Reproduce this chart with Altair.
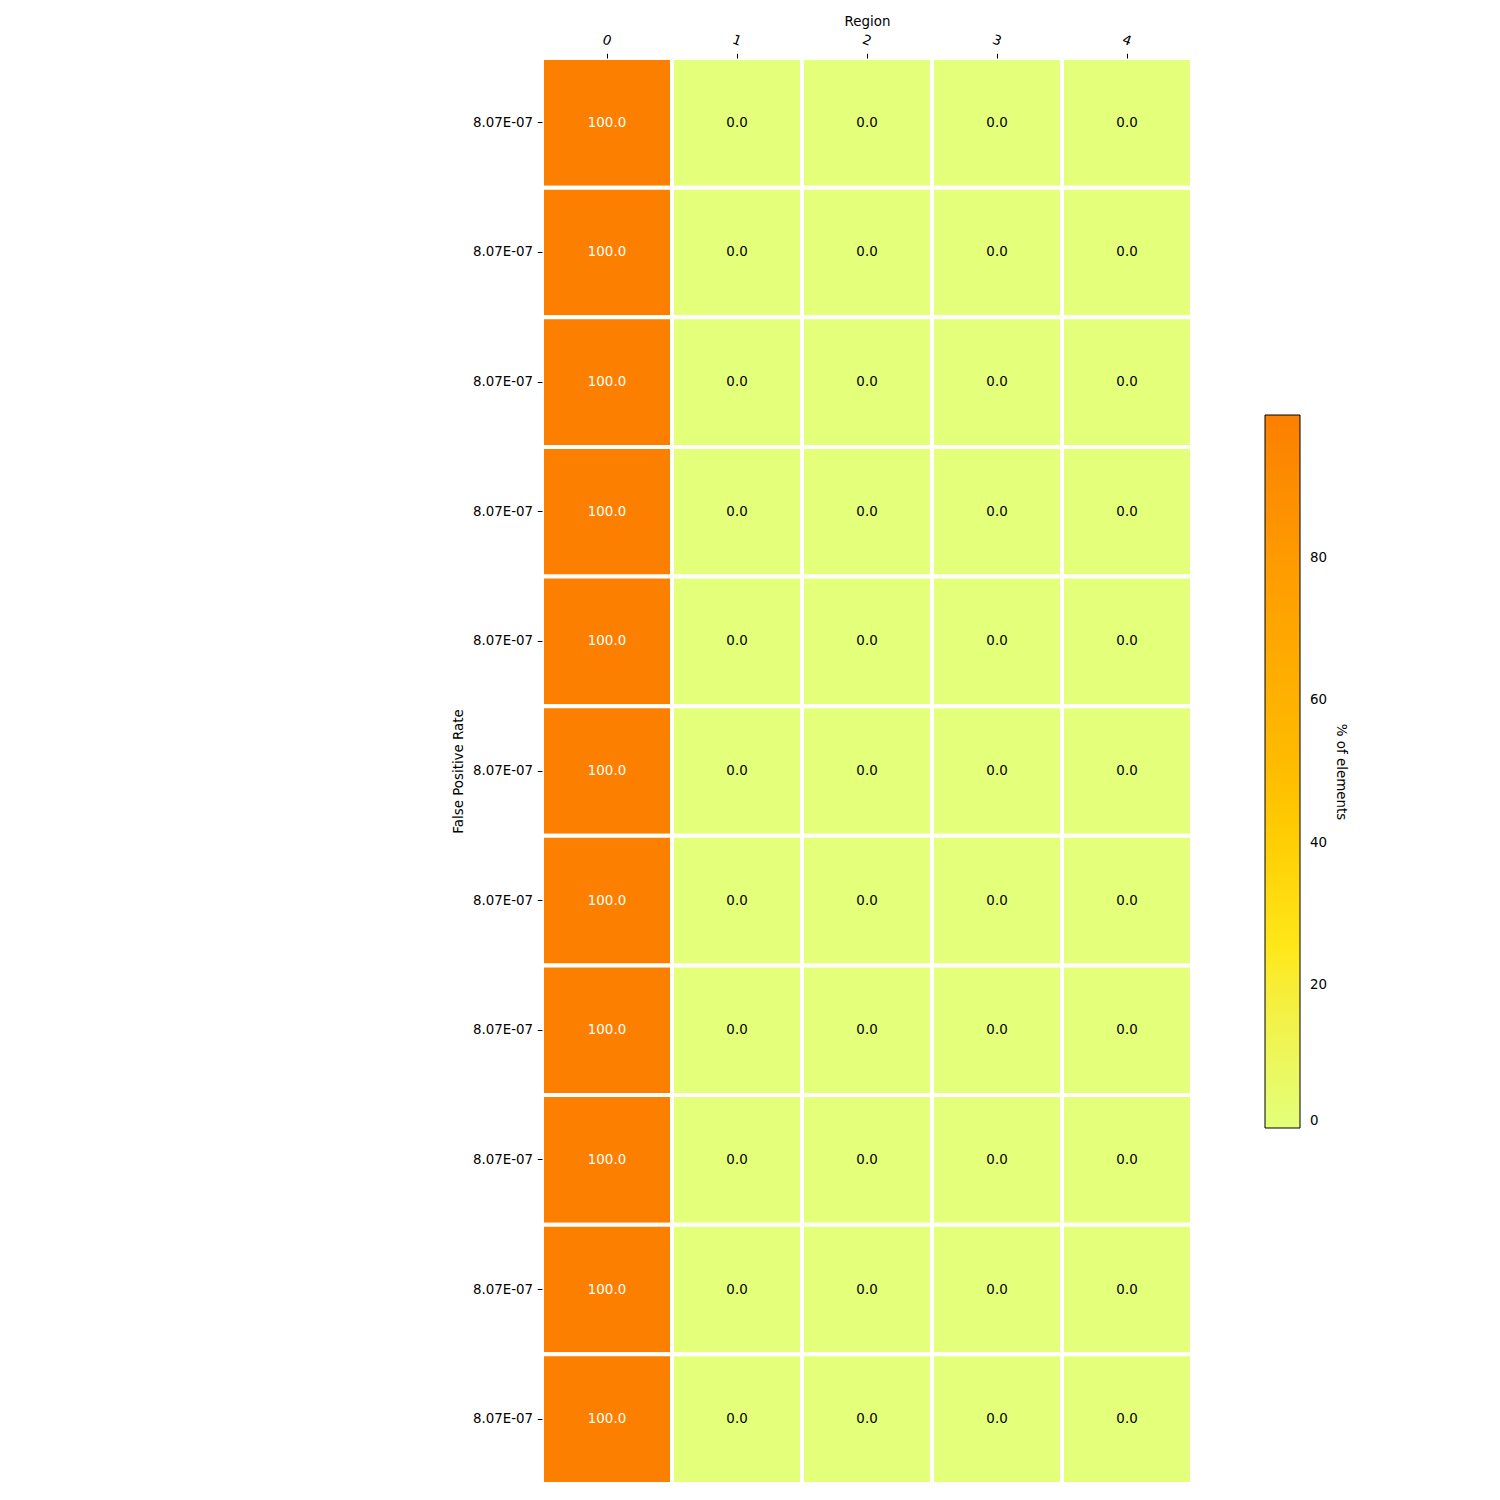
import altair as alt
import pandas as pd

regions = [0, 1, 2, 3, 4]
row_labels = ["8.07E-07"] * 11
values = [
    [100.0, 0.0, 0.0, 0.0, 0.0],
    [100.0, 0.0, 0.0, 0.0, 0.0],
    [100.0, 0.0, 0.0, 0.0, 0.0],
    [100.0, 0.0, 0.0, 0.0, 0.0],
    [100.0, 0.0, 0.0, 0.0, 0.0],
    [100.0, 0.0, 0.0, 0.0, 0.0],
    [100.0, 0.0, 0.0, 0.0, 0.0],
    [100.0, 0.0, 0.0, 0.0, 0.0],
    [100.0, 0.0, 0.0, 0.0, 0.0],
    [100.0, 0.0, 0.0, 0.0, 0.0],
    [100.0, 0.0, 0.0, 0.0, 0.0],
]
wistia = ["#e4ff7a", "#ffe81a", "#ffbd00", "#ffa000", "#fc7f00"]

rows = []
for i, row in enumerate(values):
    for j, v in enumerate(row):
        rows.append({"row": i, "region": regions[j], "value": v})
df = pd.DataFrame(rows)

label_js = "[" + ",".join("'" + s + "'" for s in row_labels) + "][datum.value]"
FONT = "DejaVu Sans"
FS = 13.4

x = alt.X("region:O", title="Region",
          scale=alt.Scale(paddingInner=0, paddingOuter=0),
          axis=alt.Axis(orient="top", labelAngle=20, domain=False,
                        labelAlign="center", labelBaseline="middle",
                        tickSize=4.7, tickColor="black", tickWidth=1,
                        labelPadding=13, titlePadding=4,
                        labelFont=FONT, labelFontSize=FS, labelColor="black",
                        titleFont=FONT, titleFontSize=FS, titleFontWeight="normal",
                        titleColor="black"))
y = alt.Y("row:O", title="False Positive Rate",
          scale=alt.Scale(paddingInner=0, paddingOuter=0),
          axis=alt.Axis(labelExpr=label_js, domain=False,
                        tickSize=4.7, tickColor="black", tickWidth=1,
                        labelPadding=4.7, titlePadding=7,
                        labelFont=FONT, labelFontSize=FS, labelColor="black",
                        titleFont=FONT, titleFontSize=FS, titleFontWeight="normal",
                        titleColor="black"))

rect = alt.Chart(df).mark_rect(stroke="white", strokeWidth=4).encode(
    x=x, y=y,
    color=alt.Color("value:Q", title="% of elements",
                    scale=alt.Scale(domain=[0, 100], range=wistia, nice=False),
                    legend=alt.Legend(orient="none", legendX=723, legendY=357,
                                      direction="vertical",
                                      gradientLength=713, gradientThickness=35,
                                      gradientStrokeColor="black",
                                      gradientStrokeWidth=1,
                                      values=[0, 20, 40, 60, 80],
                                      labelOffset=10, labelFont=FONT,
                                      labelFontSize=FS, labelColor="black",
                                      titleOrient="right", titleAnchor="middle",
                                      titlePadding=7, titleFont=FONT,
                                      titleFontSize=FS, titleFontWeight="normal",
                                      titleColor="black", padding=0)),
)

text = alt.Chart(df).mark_text(font=FONT, fontSize=FS).encode(
    x=x, y=y,
    text=alt.Text("value:Q", format=".1f"),
    color=alt.condition("datum.value > 50", alt.value("white"), alt.value("black")),
)

chart = (rect + text).properties(
    width=650, height=1426,
    autosize=alt.AutoSizeParams(type="none"),
    padding={"left": 534, "top": 50, "right": 300, "bottom": 0},
).configure_view(stroke=None)

chart.save("out.html", embed_options={"renderer": "svg", "actions": False})
